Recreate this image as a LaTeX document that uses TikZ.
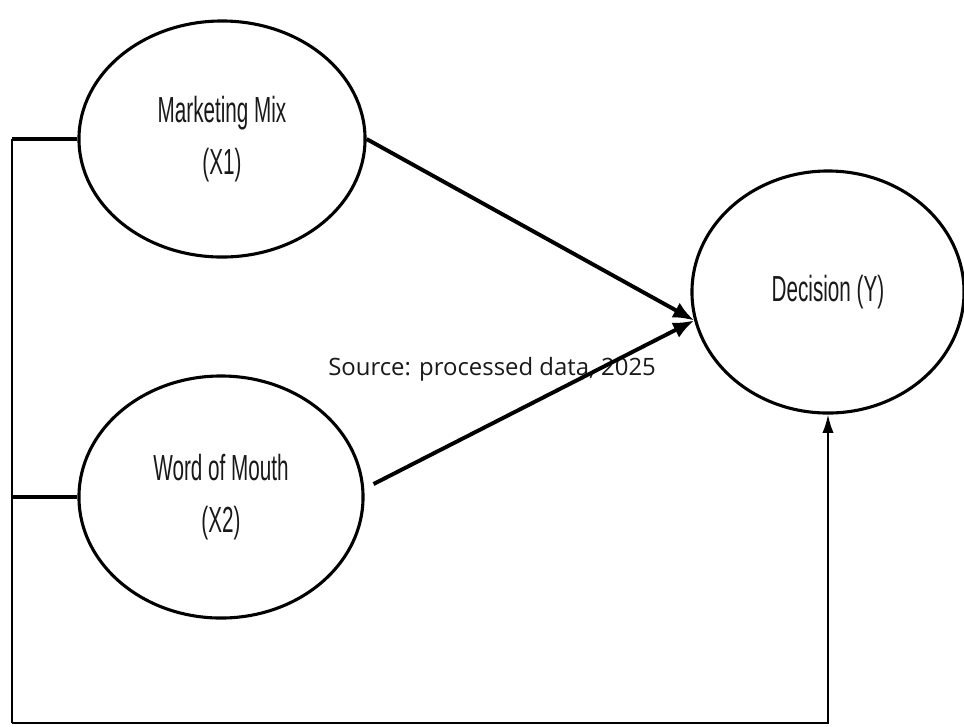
\documentclass[tikz,border=0pt]{standalone}
\usepackage{fontspec}
\usepackage{xcolor}
\usepackage{tikz}
\usetikzlibrary{shapes.geometric, arrows.meta}

\newfontfamily\narrowfont[FakeStretch=0.57]{Liberation Sans}
\newfontfamily\notefont{Open Sans}

\begin{document}
\begin{tikzpicture}[
x=0.025cm, y=-0.025cm,
var/.style = {draw, ellipse, line width=2.2pt, inner sep=0pt, align=center,
  text=black!90, font=\narrowfont\fontsize{25.8}{37}\selectfont},
path line/.style = {-{Latex[length=15pt, width=12pt]}, line width=2.8pt},
frame line/.style = {line width=1.4pt}
]

\useasboundingbox (0,0) rectangle (964,726);

\node (mm) at (222,139) [var, minimum width=7.15cm, minimum height=5.9cm] {Marketing Mix\\(X1)};
\node (wom) at (221,497) [var, minimum width=7.1cm, minimum height=6.05cm] {Word of Mouth\\(X2)};
\node (dec) at (828,292) [var, minimum width=6.8cm, minimum height=6.05cm] {Decision (Y)};

\node (src) at (328,375) [anchor=base west, inner sep=0pt, text=black!90,
  font=\notefont\fontsize{17}{20}\selectfont] {Source: processed data, 2025};

\coordinate (mmleft) at (12,139);
\coordinate (womleft) at (12,497);
\coordinate (bottomleft) at (12,723);

\draw[path line] (mm.east) -- (dec.192);
\draw[path line] ([shift={(9,-13)}]wom.east) -- (dec.192);

\draw[line width=2.8pt] (mmleft) -- (mm.west);
\draw[line width=2.8pt] (womleft) -- (wom.west);

\draw[frame line] (mmleft) -- (bottomleft);
\draw[frame line, -{Latex[length=13pt, width=8pt]}] (bottomleft) -| (dec.south);
\end{tikzpicture}
\end{document}
